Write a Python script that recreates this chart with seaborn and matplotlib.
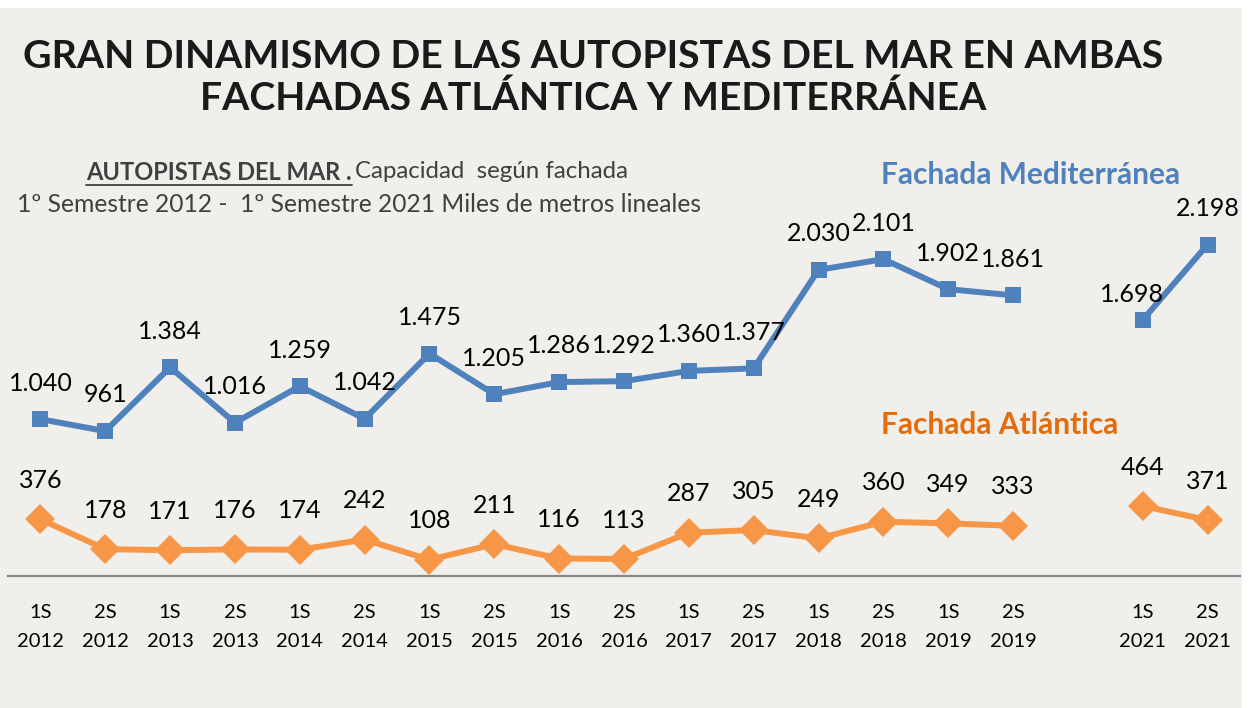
#!/usr/bin/env python3
"""
Autopistas del Mar: capacidad por fachada (miles de metros lineales),
1S 2012 - 2S 2021.
"""

import numpy as np
import pandas as pd

import matplotlib
matplotlib.use('Agg')
import matplotlib.pyplot as plt
from matplotlib.patches import Rectangle
from matplotlib.lines import Line2D
import seaborn as sns

# --- data -------------------------------------------------------------------
semestres = ["1S", "2S"] * 8 + ["", "1S", "2S"]
anios = ["2012", "2012", "2013", "2013", "2014", "2014", "2015", "2015",
         "2016", "2016", "2017", "2017", "2018", "2018", "2019", "2019",
         "", "2021", "2021"]
mediterranea = [1040, 961, 1384, 1016, 1259, 1042, 1475, 1205, 1286, 1292,
                1360, 1377, 2030, 2101, 1902, 1861, np.nan, 1698, 2198]
atlantica = [376, 178, 171, 176, 174, 242, 108, 211, 116, 113,
             287, 305, 249, 360, 349, 333, np.nan, 464, 371]

AZUL = "#4F81BD"
NARANJA = "#F79646"
NARANJA_TXT = "#E46C0A"
FONDO = "#F0EFEB"
W, H = 1255, 708


def fx(px):
    return px / W


def fy(py):
    return 1 - py / H


def serie_df(valores):
    df = pd.DataFrame({"pos": np.arange(len(valores)), "valor": valores})
    # the empty slot splits each line in two pieces
    df["tramo"] = np.where(df["pos"] < 16, 0, 1)
    return df.dropna()


def main():
    sns.set_theme(style="white")
    plt.rcParams['font.family'] = ['Lato', 'DejaVu Sans']

    fig = plt.figure(figsize=(W / 100, H / 100), dpi=100, facecolor="white")
    fig.patches.append(Rectangle((0, 0), fx(1242), fy(8), transform=fig.transFigure,
                                 facecolor=FONDO, edgecolor="none", zorder=-10))

    ax = fig.add_axes([fx(8), 1 - 576 / H, fx(1240) - fx(8), (576 - 199) / H])
    ax.set_facecolor("none")

    df_med = serie_df(mediterranea)
    df_atl = serie_df(atlantica)

    sns.lineplot(data=df_med, x="pos", y="valor", units="tramo", estimator=None,
                 color=AZUL, linewidth=4.3, marker="s", markersize=11,
                 markeredgewidth=0, sort=False, ax=ax)
    sns.lineplot(data=df_atl, x="pos", y="valor", units="tramo", estimator=None,
                 color=NARANJA, linewidth=4.3, marker="D", markersize=15,
                 markeredgewidth=0, sort=False, ax=ax)

    # data labels
    ajustes = {17: (-8, 18)}
    for _, r in df_med.iterrows():
        dx, dy = ajustes.get(int(r["pos"]), (0, 26))
        ax.annotate(f"{r['valor']:,.0f}".replace(",", "."), (r["pos"], r["valor"]),
                    xytext=(dx, dy), textcoords="offset points", ha="center",
                    va="center", fontsize=18, color="black")
    for _, r in df_atl.iterrows():
        ax.annotate(f"{r['valor']:,.0f}".replace(",", "."), (r["pos"], r["valor"]),
                    xytext=(0, 28), textcoords="offset points", ha="center",
                    va="center", fontsize=18, color="black")

    ax.set_xlim(-0.5, len(semestres) - 0.5)
    ax.set_ylim(0, 2500)
    ax.set_xticks(range(len(semestres)))
    ax.set_xticklabels([f"{s}\n{a}" if s else "" for s, a in zip(semestres, anios)],
                       fontsize=14.5, color="black", linespacing=1.9)
    ax.tick_params(axis="x", length=0, pad=20)
    ax.set_yticks([])
    ax.set_xlabel("")
    ax.set_ylabel("")
    for lado in ["top", "right", "left"]:
        ax.spines[lado].set_visible(False)
    ax.spines["bottom"].set_color("#878787")
    ax.spines["bottom"].set_linewidth(1.6)

    # titles
    fig.text(fx(593), fy(56), "GRAN DINAMISMO DE LAS AUTOPISTAS DEL MAR EN AMBAS",
             ha="center", va="center", fontsize=28.3, fontweight="bold", color="#1A1A1A")
    fig.text(fx(593), fy(98), "FACHADAS ATLÁNTICA Y MEDITERRÁNEA",
             ha="center", va="center", fontsize=28.3, fontweight="bold", color="#1A1A1A")

    negrita = fig.text(fx(352), fy(172), "AUTOPISTAS DEL MAR .", ha="right", va="center",
                       fontsize=17, fontweight="bold", color="#404040")
    fig.text(fx(355), fy(172), "Capacidad  según fachada", ha="left", va="center",
             fontsize=17.3, color="#404040")
    fig.text(fx(359), fy(205), "1º Semestre 2012 -  1º Semestre 2021 Miles de metros lineales",
             ha="center", va="center", fontsize=17.7, color="#404040")

    fig.text(fx(1031), fy(175), "Fachada Mediterránea", ha="center", va="center",
             fontsize=21.5, fontweight="bold", color=AZUL)
    fig.text(fx(1000), fy(425), "Fachada Atlántica", ha="center", va="center",
             fontsize=21.5, fontweight="bold", color=NARANJA_TXT)

    # underline for the bold part of the subtitle
    fig.canvas.draw()
    bb = negrita.get_window_extent().transformed(fig.transFigure.inverted())
    fig.add_artist(Line2D([bb.x0, bb.x1], [bb.y0 - 0.002, bb.y0 - 0.002],
                          transform=fig.transFigure, color="#404040", linewidth=1.3))

    fig.savefig("out.png", dpi=100, facecolor=fig.get_facecolor())
    plt.close(fig)


if __name__ == "__main__":
    main()
